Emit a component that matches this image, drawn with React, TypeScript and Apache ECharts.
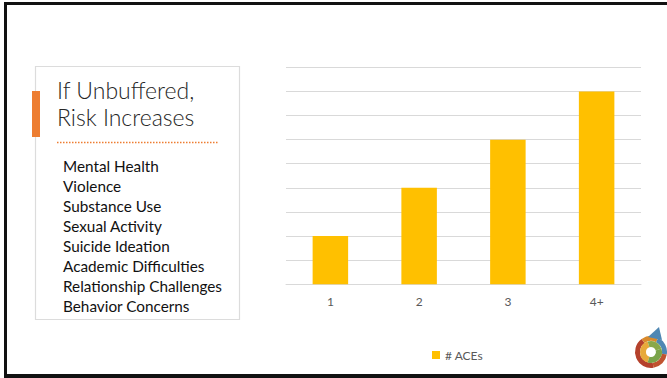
import React, { useEffect, useRef } from "react";
import * as echarts from "echarts";

const categories = ["1", "2", "3", "4+"];
const aceValues = [2, 4, 6, 8];
const seriesName = "# ACEs";
const titleLines = ["If Unbuffered,", "Risk Increases"];
const riskItems = [
  "Mental Health",
  "Violence",
  "Substance Use",
  "Sexual Activity",
  "Suicide Ideation",
  "Academic Difficulties",
  "Relationship Challenges",
  "Behavior Concerns",
];

const FONT = "Lato, 'Open Sans', sans-serif";

export default function App() {
  const ref = useRef<HTMLDivElement>(null);
  useEffect(() => {
    if (!ref.current) return;
    const chart = echarts.init(ref.current, null, { renderer: "svg" });
    const graphics: any[] = [
      // outer frame
      { type: "rect", shape: { x: 4, y: 2, width: 664, height: 3 }, style: { fill: "#111" }, silent: true },
      { type: "rect", shape: { x: 4, y: 2, width: 3, height: 376 }, style: { fill: "#111" }, silent: true },
      { type: "rect", shape: { x: 4, y: 374, width: 664, height: 4 }, style: { fill: "#111" }, silent: true },
      // left panel box
      {
        type: "rect",
        shape: { x: 35.5, y: 66.5, width: 204, height: 253 },
        style: { fill: "#fff", stroke: "#dcdcdc", lineWidth: 1.2 },
        silent: true,
      },
      { type: "rect", shape: { x: 32, y: 91, width: 8, height: 46 }, style: { fill: "#ED7D31" }, silent: true },
      {
        type: "line",
        shape: { x1: 57, y1: 142.5, x2: 218, y2: 142.5 },
        style: { stroke: "#ED7D31", lineWidth: 1.5, lineDash: [1.5, 1.5] },
        silent: true,
      },
    ];
    titleLines.forEach((t, i) => {
      graphics.push({
        type: "text",
        x: 57,
        y: 90 + i * 27,
        style: {
          text: t,
          fill: "#262626",
          font: `300 23px ${FONT}`,
          verticalAlign: "middle",
        },
        silent: true,
      });
    });
    riskItems.forEach((t, i) => {
      graphics.push({
        type: "text",
        x: 63,
        y: 165.5 + i * 20.1,
        style: {
          text: t,
          fill: "#111",
          font: `15.3px ${FONT}`,
          verticalAlign: "middle",
        },
        silent: true,
      });
    });
    // logo
    const cx = 651, cy = 352;
    const logoParts: [number, number, string][] = [
      [Math.PI * 0.45, Math.PI * 1.3, "#b5412c"],
      [Math.PI * 1.3, Math.PI * 1.65, "#d98a2b"],
      [Math.PI * 1.65, Math.PI * 2.05, "#4f87b3"],
      [Math.PI * 0.05, Math.PI * 0.45, "#c0532f"],
    ];
    logoParts.forEach(([s, e, c]) => {
      graphics.push({
        type: "sector",
        shape: { cx, cy, r: 16, r0: 11, startAngle: s, endAngle: e },
        style: { fill: c },
        silent: true,
      });
    });
    const innerParts: [number, number, string][] = [
      [Math.PI * 0.6, Math.PI * 1.4, "#e7a93a"],
      [Math.PI * 1.4, Math.PI * 1.9, "#8aa84a"],
      [Math.PI * 1.9, Math.PI * 2.6, "#7aa34a"],
    ];
    innerParts.forEach(([s, e, c]) => {
      graphics.push({
        type: "sector",
        shape: { cx, cy, r: 11, r0: 5, startAngle: s, endAngle: e },
        style: { fill: c },
        silent: true,
      });
    });
    graphics.push({
      type: "polygon",
      shape: { points: [[648, 337], [659, 327], [662, 340]] },
      style: { fill: "#4f87b3" },
      silent: true,
    });

    chart.setOption({
      animation: false,
      textStyle: { fontFamily: FONT },
      grid: { left: 286, right: 26, top: 67.3, bottom: 93.7, containLabel: false },
      xAxis: {
        type: "category",
        data: categories,
        axisLine: { lineStyle: { color: "#d9d9d9", width: 1 } },
        axisTick: { show: false },
        axisLabel: { color: "#595959", fontSize: 12, margin: 11, fontFamily: FONT },
      },
      yAxis: {
        type: "value",
        min: 0,
        max: 9,
        interval: 1,
        axisLabel: { show: false },
        axisLine: { show: false },
        axisTick: { show: false },
        splitLine: { lineStyle: { color: "#d9d9d9", width: 1 } },
      },
      legend: {
        data: [seriesName],
        left: 427,
        top: 344,
        itemWidth: 8,
        itemHeight: 8,
        icon: "rect",
        textStyle: { color: "#595959", fontSize: 12, fontFamily: FONT },
      },
      series: [
        {
          name: seriesName,
          type: "bar",
          data: aceValues,
          barWidth: "40%",
          itemStyle: { color: "#FFC000" },
        },
      ],
      graphic: graphics,
    });
    return () => chart.dispose();
  }, []);
  return (
    <div
      ref={ref}
      style={{ position: "fixed", left: 0, top: 0, width: 667, height: 378, background: "#fff" }}
    />
  );
}
